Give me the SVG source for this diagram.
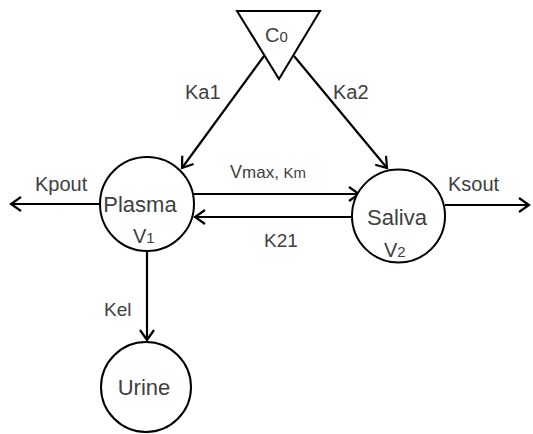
<svg xmlns="http://www.w3.org/2000/svg" width="533" height="434" viewBox="0 0 533 434">
<style>
.node{fill:#fff;stroke:#000;stroke-width:2}
.edge{fill:none;stroke:#000;stroke-width:2.2}
text{font-family:"Liberation Sans",Arial,sans-serif;fill:#404040}
.lbl{font-size:22px;text-anchor:middle}
.k{font-size:20px}
</style>
<defs>
<marker id="arr" markerUnits="userSpaceOnUse" markerWidth="20" markerHeight="20" viewBox="-12 -10 14 20" refX="0" refY="0" orient="auto">
<path d="M-10,-7 L0,0 L-10,7" fill="none" stroke="#000" stroke-width="2.2"/>
</marker>
</defs>
<g id="connectors">
<path class="edge" d="M264,56 L182,168" marker-end="url(#arr)"/>
<path class="edge" d="M294,56 L387,168" marker-end="url(#arr)"/>
<path class="edge" d="M194,194 L359,194" marker-end="url(#arr)"/>
<path class="edge" d="M353,217 L195,217" marker-end="url(#arr)"/>
<path class="edge" d="M100,204 L11,204" marker-end="url(#arr)"/>
<path class="edge" d="M445,205 L529,205" marker-end="url(#arr)"/>
<path class="edge" d="M147,251 L147,340" marker-end="url(#arr)"/>
</g>
<g id="c0">
<polygon class="node" points="237,11 320,11 279,79"/>
<text x="265" y="42" style="font-size:20px">C<tspan style="font-size:15px">0</tspan></text>
</g>
<g id="plasma">
<circle class="node" cx="147" cy="204" r="47"/>
<text class="lbl" x="140" y="212">Plasma</text>
<text x="133" y="243" style="font-size:20px">V<tspan style="font-size:15px">1</tspan></text>
</g>
<g id="saliva">
<circle class="node" cx="398.5" cy="216" r="46.5"/>
<text class="lbl" x="397" y="225">Saliva</text>
<text x="384" y="257" style="font-size:20px">V<tspan style="font-size:15px">2</tspan></text>
</g>
<g id="urine">
<circle class="node" cx="146" cy="387" r="45"/>
<text class="lbl" x="144" y="395">Urine</text>
</g>
<g id="labels">
<text class="k" x="185" y="99">Ka1</text>
<text class="k" x="333" y="99">Ka2</text>
<text x="230" y="178" style="font-size:17px"><tspan style="font-size:18px">V</tspan>max,  <tspan style="font-size:15px">Km</tspan></text>
<text x="264" y="247" style="font-size:19px">K21</text>
<text class="k" x="35" y="191">Kpout</text>
<text class="k" x="448" y="191">Ksout</text>
<text x="104" y="316" style="font-size:19px">Kel</text>
</g>
</svg>
